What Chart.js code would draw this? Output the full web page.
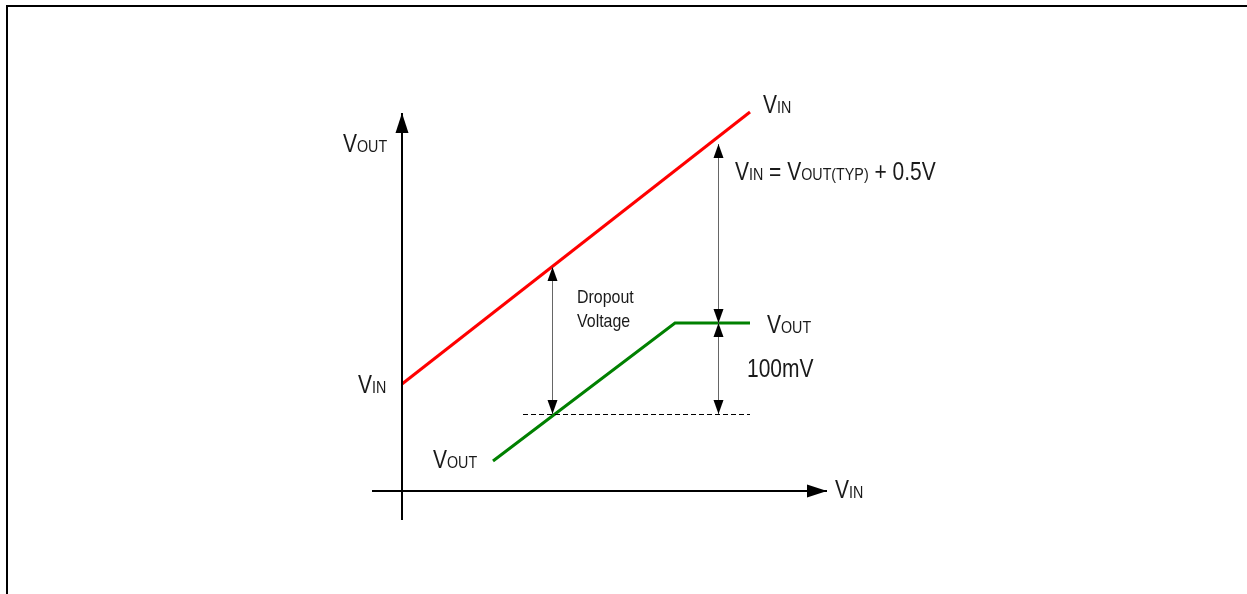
<!DOCTYPE html>
<html>
<head>
<meta charset="utf-8">
<script src="https://cdn.jsdelivr.net/npm/chart.js@4"></script>
<style>
html, body { margin: 0; padding: 0; background: #fff; overflow: hidden; }
#frame { position: absolute; left: 6px; top: 5px; width: 1260px; height: 600px; border-left: 2px solid #000; border-top: 2px solid #000; }
#chartCanvas { position: absolute; left: 0; top: 0; }
</style>
</head>
<body>
<div id="frame"></div>
<canvas id="chartCanvas" width="1247" height="594"></canvas>
<script>
// diagram units: origin where the two axes cross
const vinX = [0, 34.8];
const vinY = [10.7, 37.9];
const voutX = [9.1, 27.3, 34.8];
const voutY = [3.0, 16.8, 16.8];
const refX = [12.1, 34.8];
const refY = [7.65, 7.65];
const xAxisX = [-3.0, 42.5];
const yAxisY = [-2.9, 37.8];

// dimension arrows: x, from, to
const dropoutArrow = [15.0, 22.4, 7.7];
const headroomArrow = [31.6, 34.7, 16.8];
const marginArrow = [31.6, 16.8, 7.7];

const FONT = '"Liberation Sans", Arial, sans-serif';
const SQUEEZE = 0.84; // the original lettering is a narrow face

// text notes: [x, y, parts of [text, size]]
const notes = [
    [-5.9, 33.9, [['V', 25], ['OUT', 17]]],
    [36.1, 37.8, [['V', 25], ['IN', 17]]],
    [33.3, 31.1, [['V', 25], ['IN', 17], [' = ', 25], ['V', 25], ['OUT(TYP)', 17], [' + 0.5V', 25]]],
    [17.5, 18.8, [['Dropout', 19]]],
    [17.5, 16.4, [['Voltage', 19]]],
    [36.5, 15.8, [['V', 25], ['OUT', 17]]],
    [34.5, 11.4, [['100mV', 25]]],
    [-4.4, 9.8, [['V', 25], ['IN', 17]]],
    [3.1, 2.3, [['V', 25], ['OUT', 17]]],
    [43.3, -0.7, [['V', 25], ['IN', 17]]]
];

function pts(xs, ys) {
    return xs.map((x, i) => ({ x: x, y: ys[i] }));
}

function head(ctx, x, y, dx, dy, len, half) {
    ctx.beginPath();
    ctx.moveTo(x, y);
    ctx.lineTo(x - dx * len - dy * half, y - dy * len + dx * half);
    ctx.lineTo(x - dx * len + dy * half, y - dy * len - dx * half);
    ctx.closePath();
    ctx.fill();
}

const extras = {
    id: 'extras',
    afterDatasetsDraw(chart) {
        const ctx = chart.ctx;
        const sx = chart.scales.x, sy = chart.scales.y;
        ctx.save();
        ctx.fillStyle = '#000';
        // axis arrowheads
        head(ctx, sx.getPixelForValue(0), sy.getPixelForValue(yAxisY[1]), 0, -1, 20, 6.5);
        head(ctx, sx.getPixelForValue(xAxisX[1]), sy.getPixelForValue(0), 1, 0, 20, 6.5);
        // dimension arrows
        [dropoutArrow, headroomArrow, marginArrow].forEach(a => {
            const px = Math.round(sx.getPixelForValue(a[0])) + 0.5;
            const p1 = sy.getPixelForValue(a[1]);
            const p2 = sy.getPixelForValue(a[2]);
            ctx.strokeStyle = '#666';
            ctx.lineWidth = 1;
            ctx.beginPath();
            ctx.moveTo(px, p1);
            ctx.lineTo(px, p2);
            ctx.stroke();
            ctx.fillStyle = '#000';
            head(ctx, px, p1, 0, -1, 14, 5);
            head(ctx, px, p2, 0, 1, 14, 5);
        });
        // labels
        ctx.fillStyle = '#1a1a1a';
        ctx.textBaseline = 'alphabetic';
        ctx.textAlign = 'left';
        notes.forEach(n => {
            const x0 = sx.getPixelForValue(n[0]);
            const y = sy.getPixelForValue(n[1]);
            ctx.save();
            ctx.translate(x0, y);
            ctx.scale(SQUEEZE, 1);
            let x = 0;
            n[2].forEach(p => {
                ctx.font = p[1] + 'px ' + FONT;
                ctx.fillText(p[0], x, 0);
                x += ctx.measureText(p[0]).width;
            });
            ctx.restore();
        });
        ctx.restore();
    }
};

const ctx = document.getElementById('chartCanvas').getContext('2d');
const line = (data, color, width, dash) => ({
    data: data,
    showLine: true,
    borderColor: color,
    borderWidth: width,
    borderDash: dash || [],
    pointRadius: 0,
    fill: false,
    tension: 0
});

window.myChart = new Chart(ctx, {
    type: 'scatter',
    data: {
        datasets: [
            line(pts(xAxisX, [0, 0]), '#000', 2),
            line(pts([0, 0], yAxisY), '#000', 2),
            line(pts(refX, refY), '#000', 1, [5, 3]),
            line(pts(vinX, vinY), '#ff0000', 3),
            line(pts(voutX, voutY), '#008000', 3)
        ]
    },
    options: {
        responsive: false,
        animation: false,
        devicePixelRatio: 1,
        layout: { padding: 0 },
        plugins: { legend: { display: false }, tooltip: { enabled: false } },
        scales: {
            x: { type: 'linear', min: -40.2, max: 84.5, display: false },
            y: { type: 'linear', min: -10.3, max: 49.1, display: false }
        }
    },
    plugins: [extras]
});
</script>
</body>
</html>
